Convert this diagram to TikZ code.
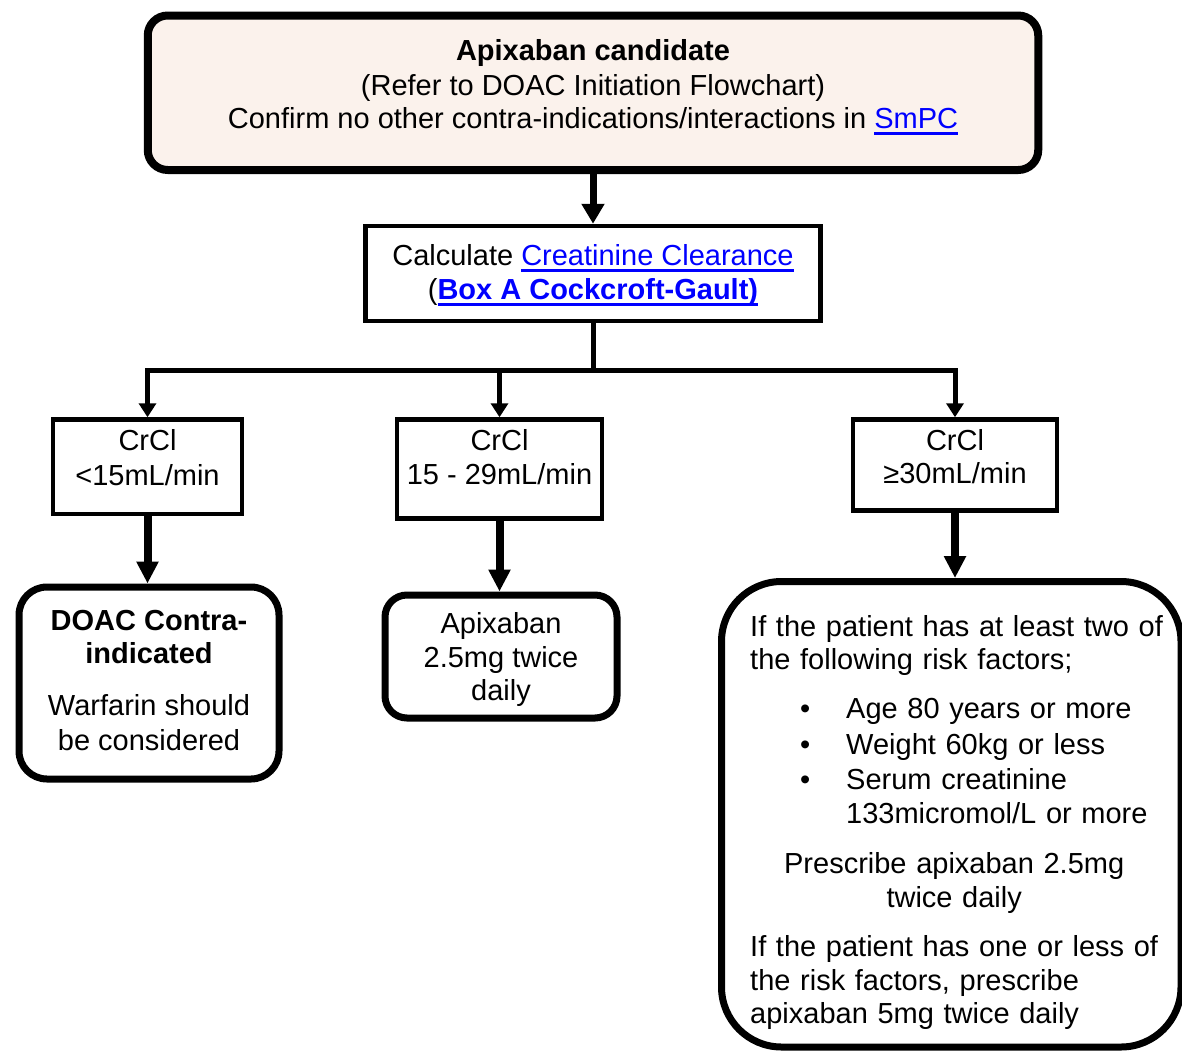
\documentclass[tikz,border=0pt]{standalone}
\usepackage{fontspec}
\setmainfont{Liberation Sans}
\usetikzlibrary{arrows.meta}
\definecolor{peach}{HTML}{FBF2EC}
\definecolor{linkblue}{HTML}{0000FF}
\newcommand{\myul}[1]{\setbox0\hbox{#1}\rlap{\rule[-6.5pt]{\wd0}{2.5pt}}\box0}
\newcommand{\lnk}[1]{\textcolor{linkblue}{\myul{#1}}}
\newcommand{\dnstrut}[1]{\rule[-#1pt]{0pt}{0pt}}
\newcommand{\upstrut}[1]{\rule{0pt}{#1pt}}
\begin{document}
\begin{tikzpicture}[x=1pt,y=-1pt,
  every node/.style={font=\fontsize{29}{34}\selectfont, inner sep=0pt, align=center},
  topbox/.style={draw, line width=8pt, rounded corners=20pt, fill=peach},
  sqbox/.style={draw, line width=4.5pt},
  rbox/.style={draw, line width=7pt},
  bigarrow/.style={line width=7pt, -{Triangle[length=20pt,width=22pt]}},
  thinline/.style={line width=5pt},
  smallarrow/.style={line width=5pt, -{Triangle[length=14pt,width=17pt]}},
  lowarrow/.style={line width=8pt, -{Triangle[length=22pt,width=21pt]}}
]
\useasboundingbox (0,0) rectangle (1182,1052);
\clip (0,0) rectangle (1182,1052);

% top box
\node[topbox, minimum width=890.5pt, minimum height=154.5pt] (top) at (593,92.75)
  {\textbf{Apixaban candidate}\\[1pt](Refer to DOAC Initiation Flowchart)\\[-1pt]Confirm no other contra-indications/interactions in \lnk{SmPC}\dnstrut{18.5}};

% calculate box
\node[sqbox, minimum width=455pt, minimum height=95pt] (calc) at (593,273.5)
  {\upstrut{24}Calculate \lnk{Creatinine Clearance}\\(\lnk{\bfseries Box A Cockcroft-Gault)}};

\coordinate (split) at (593,370.5);

% CrCl boxes
\node[sqbox, minimum width=189pt, minimum height=94.5pt] (c1) at (147.5,466.75)
  {CrCl\\[1pt]<15mL/min\dnstrut{19.5}};
\node[sqbox, minimum width=205pt, minimum height=99pt] (c2) at (499.5,469)
  {CrCl\\15 - 29mL/min\dnstrut{25}};
\node[sqbox, minimum width=204pt, minimum height=91pt] (c3) at (955,465)
  {CrCl\\[-1pt]≥30mL/min\dnstrut{18}};

% outcome boxes
\node[rbox, rounded corners=28pt, minimum width=260pt, minimum height=192pt] (doac) at (149,683)
  {\textbf{DOAC Contra-}\\[-1pt]\textbf{indicated}\\[18pt]Warfarin should\\[1pt]be considered\dnstrut{5}};
\node[rbox, rounded corners=22pt, minimum width=232pt, minimum height=123pt] (apix) at (501,656.5)
  {\upstrut{26}Apixaban\\2.5mg twice\\[-1pt]daily};
\node[rbox, rounded corners=60pt, minimum width=459.5pt, minimum height=465.5pt] (rb) at (951.25,814.25) {};
\node[anchor=north west, text width=430pt, align=left] (rbtext) at (750,615)
  {If the patient has at least two of\\[-1pt]
   the following risk factors;\\[15pt]
   \hspace*{50pt}\makebox[46pt][l]{\textbullet}Age 80 years or more\\[2pt]
   \hspace*{50pt}\makebox[46pt][l]{\textbullet}Weight 60kg or less\\[1pt]
   \hspace*{50pt}\makebox[46pt][l]{\textbullet}Serum creatinine\\[0pt]
   \hspace*{96pt}133micromol/L or more\\[16pt]
   \makebox[408pt][c]{Prescribe apixaban 2.5mg}\\[0pt]
   \makebox[408pt][c]{twice daily}\\[15pt]
   If the patient has one or less of\\
   the risk factors, prescribe\\[-1pt]
   apixaban 5mg twice daily};

% connectors
\draw[bigarrow] (top.south) -- (calc.north);
\draw[thinline] (calc.south) -- (split);
\draw[smallarrow] (split) -| (c1.north);
\draw[smallarrow] (split) -| (c2.north);
\draw[smallarrow] (split) -| (c3.north);
\draw[lowarrow] (c1.south) -- (c1.south |- doac.north);
\draw[lowarrow] (c2.south) -- (c2.south |- apix.north);
\draw[lowarrow] (c3.south) -- (c3.south |- rb.north);
\end{tikzpicture}
\end{document}
